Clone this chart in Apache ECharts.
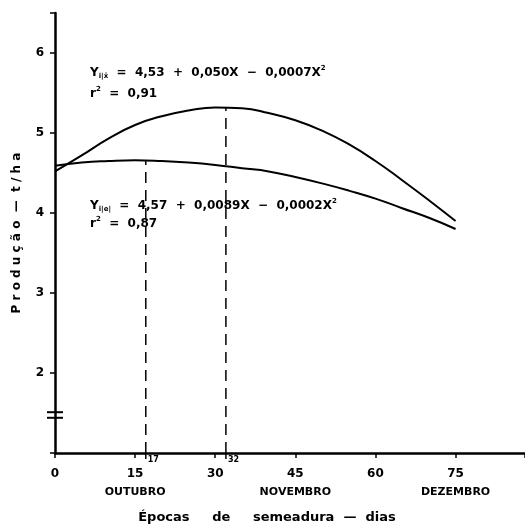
<!DOCTYPE html>
<html>
<head>
<meta charset="utf-8">
<script src="https://cdn.jsdelivr.net/npm/echarts@6/dist/echarts.min.js"></script>
<style>
  html, body { margin: 0; padding: 0; background: #fff; }
  #chart { width: 525px; height: 527px; }
</style>
</head>
<body>
<div id="chart"></div>
<script>
// days after 1 October
const days = [0, 5, 10, 15, 20, 25, 30, 35, 40, 45, 50, 55, 60, 65, 70, 75]
const yieldUpper = [4.52, 4.72, 4.93, 5.10, 5.21, 5.28, 5.32, 5.31, 5.25, 5.16, 5.03, 4.86, 4.65, 4.41, 4.16, 3.90]
const yieldLower = [4.59, 4.63, 4.65, 4.66, 4.65, 4.63, 4.60, 4.56, 4.52, 4.45, 4.37, 4.28, 4.18, 4.06, 3.94, 3.80]

// optimum sowing dates and their yields
const optDays = [17, 32]
const optYield = [4.65, 5.32]

const monthLabels = { 15: 'OUTUBRO', 45: 'NOVEMBRO', 75: 'DEZEMBRO' }
const xTicks = [0, 15, 30, 45, 60, 75]
const yTicks = [2, 3, 4, 5, 6]

const font = 'DejaVu Sans'
const chart = echarts.init(document.getElementById('chart'))

const toPairs = (xs, ys) => xs.map((x, i) => [x, ys[i]])

const option = {
  animation: false,
  grid: { left: 55, right: 0, top: 13, bottom: 74, outerBoundsMode: 'none' },
  xAxis: {
    type: 'value',
    min: 0,
    max: 88,
    interval: 15,
    splitLine: { show: false },
    axisLine: { lineStyle: { color: '#000', width: 2.5 } },
    axisTick: { show: true, length: 5, lineStyle: { color: '#000', width: 1.5 } },
    axisLabel: {
      margin: 12,
      color: '#000',
      fontFamily: font,
      fontWeight: 'bold',
      fontSize: 11,
      lineHeight: 18,
      formatter: v => {
        if (!xTicks.includes(v)) return ''
        return monthLabels[v] ? '{n|' + v + '}\n{m|' + monthLabels[v] + '}' : '{n|' + v + '}'
      },
      rich: {
        n: { fontFamily: font, fontWeight: 'bold', fontSize: 12, color: '#000' },
        m: { fontFamily: font, fontWeight: 'bold', fontSize: 11, color: '#000' }
      }
    },
    name: 'Épocas     de     semeadura  —  dias',
    nameLocation: 'middle',
    nameGap: 58,
    nameTextStyle: { color: '#000', fontFamily: font, fontWeight: 'bold', fontSize: 13, padding: [0, 46, 0, 0] }
  },
  yAxis: {
    type: 'value',
    min: 1,
    max: 6.5,
    interval: 1,
    splitLine: { show: false },
    axisLine: { lineStyle: { color: '#000', width: 2.5 } },
    axisTick: { show: true, length: 5, lineStyle: { color: '#000', width: 1.5 } },
    axisLabel: {
      margin: 11,
      color: '#000',
      fontFamily: font,
      fontWeight: 'bold',
      fontSize: 12,
      formatter: v => yTicks.includes(v) ? String(v) : ''
    },
    name: 'P r o d u ç ã o  —  t / h a',
    nameLocation: 'middle',
    nameGap: 32,
    nameTextStyle: { color: '#000', fontFamily: font, fontWeight: 'bold', fontSize: 12 }
  },
  series: [
    {
      type: 'line',
      smooth: true,
      symbol: 'none',
      data: toPairs(days, yieldUpper),
      lineStyle: { color: '#000', width: 2 }
    },
    {
      type: 'line',
      smooth: true,
      symbol: 'none',
      data: toPairs(days, yieldLower),
      lineStyle: { color: '#000', width: 2 }
    },
    ...optDays.map((d, i) => ({
      type: 'line',
      symbol: 'none',
      data: [[d, 1], [d, optYield[i]]],
      lineStyle: { color: '#000', width: 1.5, type: [11, 7] }
    }))
  ]
}

chart.setOption(option)

// extra marks placed through the chart's own scales
const px = (x, y) => chart.convertToPixel({ gridIndex: 0 }, [x, y])
const graphics = []

// axis break on the y axis
;[1.44, 1.51].forEach(v => {
  const p = px(0, v)
  graphics.push({ type: 'line', shape: { x1: p[0] - 8, y1: p[1], x2: p[0] + 8, y2: p[1] }, style: { stroke: '#000', lineWidth: 2 } })
})

// small ticks with labels at the optimum dates
optDays.forEach(d => {
  const p = px(d, 1)
  graphics.push({ type: 'line', shape: { x1: p[0], y1: p[1], x2: p[0], y2: p[1] + 6 }, style: { stroke: '#000', lineWidth: 1.5 } })
  graphics.push({ type: 'text', x: p[0] + 2, y: p[1] + 3, style: { text: String(d), fill: '#000', font: 'bold 8px ' + font } })
})

const eqStyle = {
  t: { fontFamily: font, fontWeight: 'bold', fontSize: 12, color: '#000' },
  s: { fontFamily: font, fontWeight: 'bold', fontSize: 7, color: '#000', padding: [8, 0, 0, 0] },
  p: { fontFamily: font, fontWeight: 'bold', fontSize: 7, color: '#000', padding: [0, 0, 8, 0] }
}
const texts = [
  [90, 65, '{t|Y}{s|i|x̄}{t|  =  4,53  +  0,050X  −  0,0007X}{p|2}'],
  [90, 86, '{t|r}{p|2}{t|  =  0,91}'],
  [90, 198, '{t|Y}{s|i|e|}{t|  =  4,57  +  0,0089X  −  0,0002X}{p|2}'],
  [90, 216, '{t|r}{p|2}{t|  =  0,87}']
]
texts.forEach(([x, y, t]) => {
  graphics.push({ type: 'text', x: x, y: y, style: { text: t, rich: eqStyle, fill: '#000' } })
})

chart.setOption({ graphic: graphics })

window.addEventListener('resize', () => chart.resize())
</script>
</body>
</html>
